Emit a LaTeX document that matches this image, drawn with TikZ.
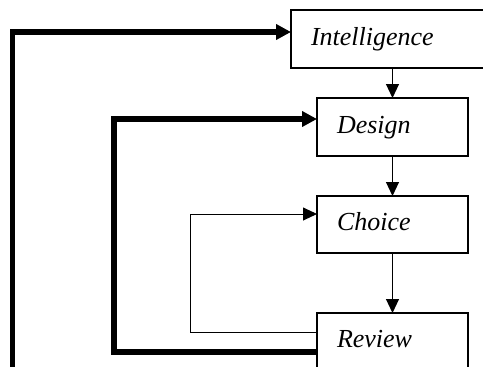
\documentclass[tikz,border=0pt]{standalone}
\usepackage{fontspec}
\setmainfont{Liberation Serif}
\usetikzlibrary{arrows.meta,calc}
\begin{document}
\begin{tikzpicture}[x=1pt,y=-1pt,
  box/.style={draw, line width=1.6pt, rectangle, outer sep=0pt, inner xsep=20pt, inner ysep=0pt,
    minimum height=58pt, align=left, text height=18pt, text depth=6pt,
    font=\fontsize{26}{30}\selectfont\itshape},
  thinarrow/.style={line width=1.1pt, -{Triangle[length=14pt,width=13pt]}},
  looparrow/.style={line width=0.9pt, -{Triangle[length=14pt,width=13pt]}},
  thickarrow/.style={line width=5.5pt, -{Triangle[length=15pt,width=15pt]}}]
\useasboundingbox (0,0) rectangle (483,367);
\clip (0,0) rectangle (483,367);
\node[box, text width=160pt, anchor=north west] (intel) at (291,10) {Intelligence};
\node[box, text width=111pt, anchor=north west] (design) at (317,98) {Design};
\node[box, text width=111pt, anchor=north west, minimum height=57pt] (choice) at (317,196) {Choice};
\node[box, text width=111pt, anchor=north west, minimum height=57pt] (review) at (317,313) {Review};
\draw[thinarrow] (design.north |- intel.south) -- (design.north);
\draw[thinarrow] (choice.north |- design.south) -- (choice.north);
\draw[thinarrow] (review.north |- choice.south) -- (review.north);
\draw[looparrow] ($(review.north west)+(0,19)$) -- ++(-127,0) |- ($(choice.north west)+(0,18)$);
\draw[thickarrow] ($(review.north west)+(0,39)$) -- ++(-203,0) |- ($(design.north west)+(0,21)$);
\coordinate (outerstart) at (12.5,385);
\draw[thickarrow] (outerstart) |- ($(intel.north west)+(0,22)$);
\end{tikzpicture}
\end{document}
